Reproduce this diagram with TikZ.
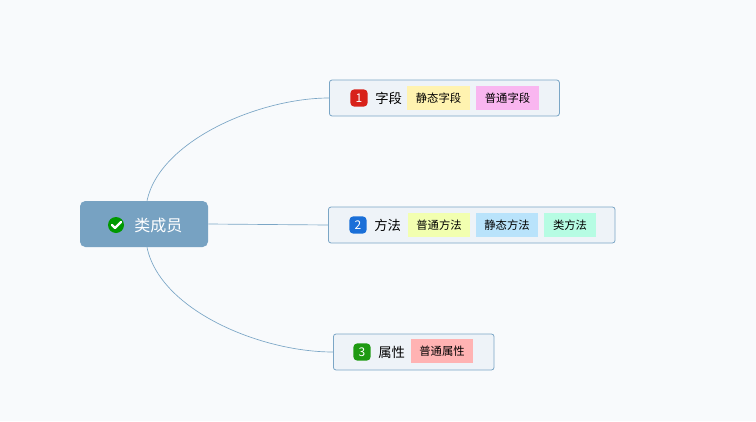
\documentclass[tikz,border=0pt]{standalone}
\usepackage{fontspec}
\setmainfont{Noto Sans CJK SC}
\usetikzlibrary{positioning}
\definecolor{bgcol}{HTML}{F8FAFC}
\definecolor{rootcol}{HTML}{77A2C2}
\definecolor{linecol}{HTML}{7BA6C6}
\definecolor{boxcol}{HTML}{EEF3F8}
\definecolor{tagyellow}{HTML}{FFF3B0}
\definecolor{tagpink}{HTML}{F9B6F0}
\definecolor{taglime}{HTML}{F2FFB0}
\definecolor{tagblue}{HTML}{B9E3FB}
\definecolor{tagmint}{HTML}{B6FCE3}
\definecolor{tagred}{HTML}{FFB3B3}
\definecolor{badgered}{HTML}{D8221A}
\definecolor{badgeblue}{HTML}{1A6FD8}
\definecolor{badgegreen}{HTML}{1E9A12}
\begin{document}
\begin{tikzpicture}[x=0.75pt,y=-0.75pt]
    \tikzset{
        topic/.style = {rectangle, rounded corners=2pt, draw=linecol, fill=boxcol, line width=0.6pt, minimum height=27pt, anchor=west},
        tag/.style = {rectangle, fill=#1, minimum height=18pt, minimum width=47pt, inner xsep=2pt, font=\fontsize{8.5}{10}\selectfont},
        badge/.style = {rectangle, rounded corners=3pt, fill=#1, text=white, minimum size=13pt, inner sep=0pt, font=\fontsize{9}{10}\selectfont},
        link/.style = {draw=linecol, line width=0.5pt},
        label/.style = {font=\fontsize{10}{12}\selectfont},
    }
    \fill[bgcol] (0,0) rectangle (756,421);
    \useasboundingbox (0,0) rectangle (756,421);

    % root
    \node (root) [rectangle, rounded corners=4pt, fill=rootcol, minimum width=96pt, minimum height=34.5pt] at (144,224) {};
    \node (check) [circle, fill=green!60!black, inner sep=0pt, minimum size=12pt] at (116,225) {};
    \draw [white, line width=1.6pt, line cap=round, line join=round] ([xshift=-3pt]check.center) -- ++(3,3) -- ++(6,-6);
    \node (rootlbl) [right=4pt of check, text=white, font=\fontsize{12}{14}\selectfont] {类成员};

    % topics
    \node (t1) [topic, minimum width=172.5pt] at (329,98) {};
    \node (t2) [topic, minimum width=215pt] at (328,225) {};
    \node (t3) [topic, minimum width=120.5pt] at (333,352) {};

    \node (b1) [badge=badgered] at (359,98) {1};
    \node (l1) [label, right=2pt of b1] {字段};
    \node (s1) [tag=tagyellow] at (438.5,98) {静态字段};
    \node (s2) [tag=tagpink] at (507.5,98) {普通字段};

    \node (b2) [badge=badgeblue] at (358,225) {2};
    \node (l2) [label, right=2pt of b2] {方法};
    \node (m1) [tag=taglime] at (439,225) {普通方法};
    \node (m2) [tag=tagblue] at (507,225) {静态方法};
    \node (m3) [tag=tagmint, minimum width=39pt] at (570,225) {类方法};

    \node (b3) [badge=badgegreen] at (362,352) {3};
    \node (l3) [label, right=2pt of b3] {属性};
    \node (p1) [tag=tagred] at (442,351) {普通属性};

    % links
    \draw [link] (root.north) ++(3,0) .. controls (160,140) and (260,98) .. (t1.west);
    \draw [link] (root.east) -- (t2.west);
    \draw [link] (root.south) ++(3,0) .. controls (160,310) and (260,352) .. (t3.west);
\end{tikzpicture}
\end{document}
